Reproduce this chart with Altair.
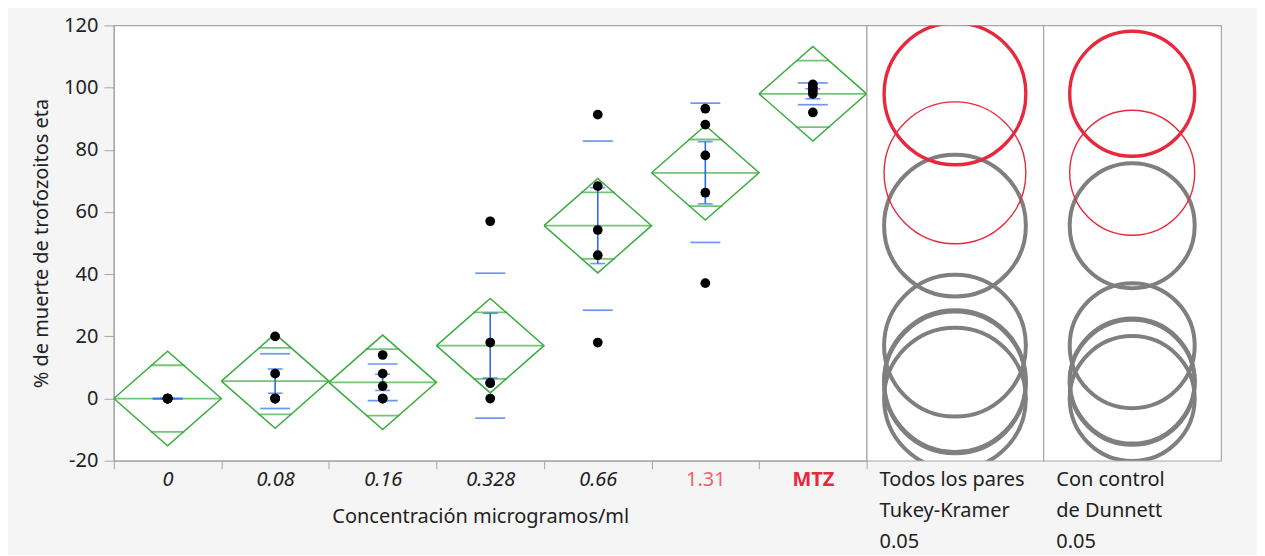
import altair as alt
import pandas as pd

# ---- data ----
cats = ["0", "0.08", "0.16", "0.328", "0.66", "1.31", "MTZ"]
obs_0 = [0, 0, 0, 0, 0]
obs_008 = [20, 8, 0, 0, 0]
obs_016 = [14, 8, 4, 0, 0]
obs_0328 = [57, 18, 5, 5, 0]
obs_066 = [91.3, 68.3, 54.2, 46.1, 18.0]
obs_131 = [93.2, 88.1, 78.2, 66.2, 37.1]
obs_mtz = [101, 100, 99, 98, 92]
means = [0, 5.6, 5.2, 17.0, 55.6, 72.6, 98.0]
sds = [0, 8.8, 5.9, 23.3, 27.2, 22.4, 3.5]
ses = [0, 3.9, 2.6, 10.4, 12.2, 10.0, 1.6]
ci95 = [15.2, 15.2, 15.2, 15.2, 15.2, 15.2, 15.2]
overlap = [10.7, 10.7, 10.7, 10.7, 10.7, 10.7, 10.7]
circle_status = ["dif", "dif", "dif", "dif", "dif", "nodif", "ctrl"]
tukey_radius = 22.8
dunnett_radius = 20.1
y_ticks = [-20, 0, 20, 40, 60, 80, 100, 120]

# ---- styling ----
FONT = "Noto Sans"
FS = 20
TXT = "#222222"
GREEN = "#3aad40"
BLUE = "#2f68f0"
RED = "#e8283c"
PINK = "#f0606e"
GRAY = "#7f7f7f"
FRAME = "#a6a6a6"

W_MAIN, W_T, W_D, H = 754, 177, 178, 436
BW = W_MAIN / len(cats)
PX_PER_UNIT = H / 140.0

obs_all = [obs_0, obs_008, obs_016, obs_0328, obs_066, obs_131, obs_mtz]
pts = pd.DataFrame([{"cat": c, "y": v} for c, vals in zip(cats, obs_all) for v in vals])

grp = pd.DataFrame({"cat": cats, "mean": means, "sd": sds, "se": ses,
                    "ci": ci95, "ovl": overlap, "status": circle_status})
grp["sd_lo"] = grp["mean"] - grp["sd"]
grp["sd_hi"] = grp["mean"] + grp["sd"]
grp["se_lo"] = grp["mean"] - grp["se"]
grp["se_hi"] = grp["mean"] + grp["se"]
grp["ov_lo"] = grp["mean"] - grp["ovl"]
grp["ov_hi"] = grp["mean"] + grp["ovl"]

dia_rows = []
for c, m, h in zip(cats, means, ci95):
    for k, (dx, dy) in enumerate([(0, 0), (0.5, h), (1, 0), (0.5, -h), (0, 0)]):
        dia_rows.append({"cat": c, "dx": dx, "y": m + dy, "k": k})
dia = pd.DataFrame(dia_rows)

label_color = ("datum.value == 'MTZ' ? '%s' : (datum.value == '1.31' ? '%s' : '%s')"
               % (RED, PINK, TXT))
label_style = "datum.value == 'MTZ' || datum.value == '1.31' ? 'normal' : 'italic'"
label_weight = "datum.value == 'MTZ' ? 'bold' : 'normal'"

xscale = alt.Scale(type="band", domain=cats, paddingInner=0, paddingOuter=0)
xaxis = alt.Axis(title="Concentración microgramos/ml", labelAngle=0, tickBand="extent",
                 tickSize=8, labelPadding=1, titlePadding=17, titleX=367,
                 labelColor=alt.ExprRef(expr=label_color),
                 labelFontStyle=alt.ExprRef(expr=label_style),
                 labelFontWeight=alt.ExprRef(expr=label_weight))
X = alt.X("cat:N", scale=xscale, axis=xaxis)

yscale = alt.Scale(domain=[-20, 120], nice=False, zero=False)
yaxis = alt.Axis(title="% de muerte de trofozoitos eta", values=y_ticks, grid=False,
                 tickSize=10, labelPadding=6, titlePadding=12,
                 labelExpr="datum.value < 0 ? '-' + abs(datum.value) : '' + datum.value")
Y = lambda f: alt.Y(f, scale=yscale, axis=yaxis)

diamonds = alt.Chart(dia).mark_line(color=GREEN, strokeWidth=1.5).encode(
    x=X, xOffset=alt.XOffset("dx:Q", scale=alt.Scale(domain=[0, 1])),
    y=Y("y:Q"), detail="cat:N", order="k:Q")
gbase = alt.Chart(grp)
mean_line = gbase.mark_tick(color=GREEN, size=BW, thickness=1.8, orient="horizontal").encode(x=X, y=Y("mean:Q"))
ov_lo = gbase.mark_tick(color=GREEN, size=34, thickness=1.8, orient="horizontal").encode(x=X, y=Y("ov_lo:Q"))
ov_hi = gbase.mark_tick(color=GREEN, size=34, thickness=1.8, orient="horizontal").encode(x=X, y=Y("ov_hi:Q"))
sd_lo = gbase.mark_tick(color=BLUE, size=30, thickness=1.7, orient="horizontal").encode(x=X, y=Y("sd_lo:Q"))
sd_hi = gbase.mark_tick(color=BLUE, size=30, thickness=1.7, orient="horizontal").encode(x=X, y=Y("sd_hi:Q"))
err = gbase.mark_rule(color=BLUE, strokeWidth=1.6).encode(x=X, y=Y("se_lo:Q"), y2="se_hi:Q")
cap_lo = gbase.mark_tick(color=BLUE, size=15, thickness=1.6, orient="horizontal").encode(x=X, y=Y("se_lo:Q"))
cap_hi = gbase.mark_tick(color=BLUE, size=15, thickness=1.6, orient="horizontal").encode(x=X, y=Y("se_hi:Q"))
dots = alt.Chart(pts).mark_circle(color="black", size=95, opacity=1).encode(x=X, y=Y("y:Q"))

main = alt.layer(diamonds, mean_line, ov_lo, ov_hi, sd_lo, sd_hi, err, cap_lo, cap_hi, dots).properties(
    width=W_MAIN, height=H)

status_domain = ["dif", "nodif", "ctrl"]
stroke_scale = alt.Scale(type="ordinal", domain=status_domain, range=[GRAY, RED, RED])
width_scale = alt.Scale(type="ordinal", domain=status_domain, range=[4, 1.4, 3.4])


def circles(radius, w, lines):
    d = 2 * radius * PX_PER_UNIT
    return alt.Chart(grp).mark_point(shape="circle", filled=False, clip=True,
                                     size=d * d, opacity=1).encode(
        x=alt.value(w / 2),
        y=alt.Y("mean:Q", scale=yscale, axis=None),
        stroke=alt.Stroke("status:N", scale=stroke_scale, legend=None),
        strokeWidth=alt.StrokeWidth("status:N", scale=width_scale, legend=None),
    ).properties(width=w, height=H, title=alt.TitleParams(
        text=lines, orient="bottom", anchor="start", align="left", baseline="top",
        dx=13, offset=9, fontSize=FS, font=FONT, fontWeight="normal", color=TXT,
        lineHeight=31))


tukey = circles(tukey_radius, W_T, ["Todos los pares", "Tukey-Kramer", "\u00a00.05"])
dunnett = circles(dunnett_radius, W_D, ["Con control", "de Dunnett", "\u00a00.05"])

chart = alt.hconcat(main, tukey, dunnett, spacing=0, bounds="flush").properties(
    background="#f5f5f5", padding={"left": 23, "top": 6, "right": 35, "bottom": 2}
).configure_view(fill="white", stroke=FRAME, strokeWidth=1.2).configure_axis(
    labelFont=FONT, titleFont=FONT, labelFontSize=FS, titleFontSize=FS,
    titleFontWeight="normal", labelColor=TXT, titleColor=TXT,
    domainColor=FRAME, tickColor=FRAME, domainWidth=1.2)

chart.save("out.html", embed_options={"renderer": "svg", "actions": False})
